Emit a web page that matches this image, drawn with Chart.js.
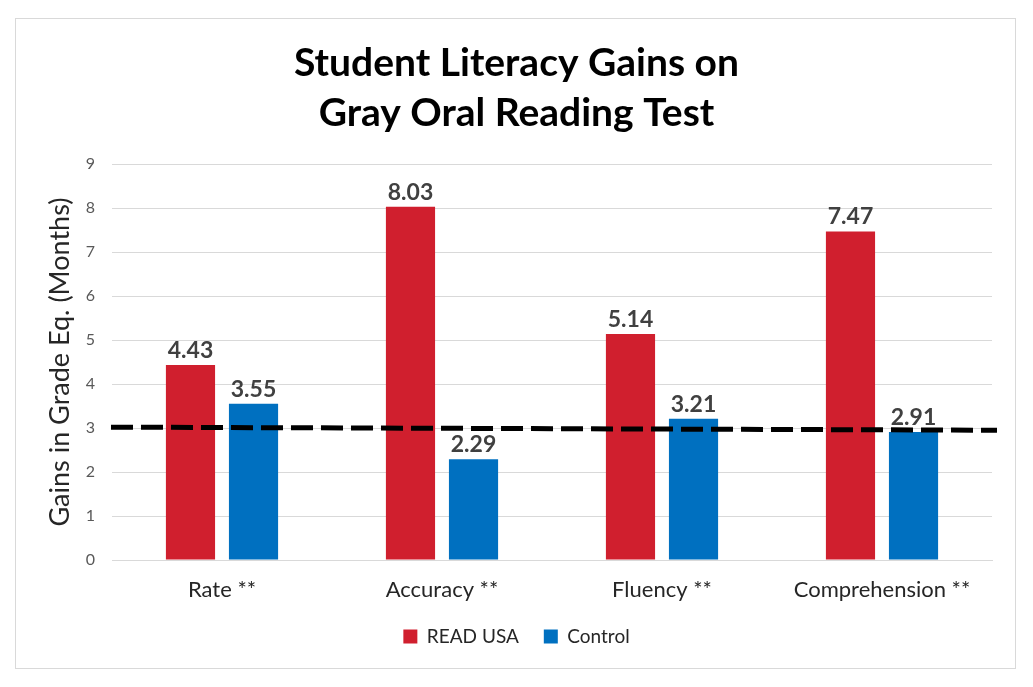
<!DOCTYPE html>
<html>
<head>
<meta charset="utf-8">
<script src="https://cdn.jsdelivr.net/npm/chart.js@4/dist/chart.umd.min.js"></script>
<style>
  html, body { margin: 0; padding: 0; background: #ffffff; }
  #wrap { position: relative; width: 1033px; height: 687px; }
</style>
</head>
<body>
<div id="wrap"><canvas id="c" width="1033" height="687"></canvas></div>
<script>
const categories = ['Rate **', 'Accuracy **', 'Fluency **', 'Comprehension **'];
const readUsaValues = [4.43, 8.03, 5.14, 7.47];
const controlValues = [3.55, 2.29, 3.21, 2.91];
const seriesNames = ['READ USA', 'Control'];
const titleLines = ['Student Literacy Gains on', 'Gray Oral Reading Test'];
const yAxisTitle = 'Gains in Grade Eq. (Months)';
const yTicks = [0, 1, 2, 3, 4, 5, 6, 7, 8, 9];
const referenceLine = [3.02, 2.95]; // value at left edge, value at right edge

const FONT = 'Lato, "Open Sans", "DejaVu Sans", sans-serif';

const borderPlugin = {
  id: 'outerBorder',
  beforeDraw(chart) {
    const ctx = chart.ctx;
    ctx.save();
    ctx.fillStyle = '#ffffff';
    ctx.fillRect(0, 0, chart.width, chart.height);
    ctx.strokeStyle = '#d9d9d9';
    ctx.lineWidth = 1;
    ctx.strokeRect(15.5, 18.5, 1000, 650);
    ctx.restore();
  }
};

const valueLabelPlugin = {
  id: 'valueLabels',
  afterDatasetsDraw(chart) {
    const ctx = chart.ctx;
    ctx.save();
    ctx.font = 'bold 23px ' + FONT;
    ctx.fillStyle = '#404040';
    ctx.textAlign = 'center';
    ctx.textBaseline = 'bottom';
    chart.data.datasets.forEach((ds, di) => {
      const meta = chart.getDatasetMeta(di);
      meta.data.forEach((bar, i) => {
        ctx.fillText(ds.data[i].toFixed(2), bar.x, bar.y - 3);
      });
    });
    ctx.restore();
  }
};

const refLinePlugin = {
  id: 'refLine',
  afterDraw(chart) {
    const y = chart.scales.y;
    const area = chart.chartArea;
    const ctx = chart.ctx;
    ctx.save();
    ctx.strokeStyle = '#000000';
    ctx.lineWidth = 5;
    ctx.setLineDash([22, 8]);
    ctx.beginPath();
    ctx.moveTo(area.left - 1, y.getPixelForValue(referenceLine[0]));
    ctx.lineTo(area.right + 5, y.getPixelForValue(referenceLine[1]));
    ctx.stroke();
    ctx.restore();
  }
};

new Chart(document.getElementById('c'), {
  type: 'bar',
  data: {
    labels: categories,
    datasets: [
      { label: seriesNames[0], data: readUsaValues, backgroundColor: '#D01F2E', borderWidth: 0 },
      { label: seriesNames[1], data: controlValues, backgroundColor: '#0070C0', borderWidth: 0 }
    ]
  },
  options: {
    responsive: false,
    animation: false,
    devicePixelRatio: 1,
    categoryPercentage: 0.573,
    barPercentage: 0.78,
    layout: { padding: { left: 15, right: 15, top: 0, bottom: 31 } },
    plugins: {
      title: {
        display: true,
        text: titleLines,
        color: '#000000',
        font: { family: FONT, size: 39, weight: 'bold', lineHeight: 1.283 },
        padding: { top: 38, bottom: 26 }
      },
      legend: {
        position: 'bottom',
        labels: {
          color: '#262626',
          font: { family: FONT, size: 19 },
          boxWidth: 14,
          boxHeight: 14,
          padding: 25
        }
      },
      tooltip: { enabled: false }
    },
    scales: {
      x: {
        afterFit(scale) { scale.height = 42; },
        grid: { display: false, drawTicks: false },
        border: { display: true, color: '#d9d9d9' },
        ticks: { color: '#262626', font: { family: FONT, size: 22 }, padding: 17 }
      },
      y: {
        min: 0,
        max: 9,
        afterBuildTicks(scale) { scale.ticks = yTicks.map(v => ({ value: v })); },
        afterFit(scale) { scale.width = 97; },
        grid: { color: '#d9d9d9', drawTicks: false },
        border: { display: false },
        ticks: { color: '#595959', font: { family: FONT, size: 16 }, padding: 17 },
        title: {
          display: true,
          text: yAxisTitle,
          color: '#262626',
          font: { family: FONT, size: 27 },
          padding: { top: 29, bottom: 0 }
        }
      },
      yRightSpace: {
        type: 'linear',
        position: 'right',
        display: true,
        afterFit(scale) { scale.width = 26; },
        grid: { display: false, drawOnChartArea: false, drawTicks: false },
        border: { display: false },
        ticks: { display: false }
      }
    }
  },
  plugins: [borderPlugin, valueLabelPlugin, refLinePlugin]
});
</script>
</body>
</html>
